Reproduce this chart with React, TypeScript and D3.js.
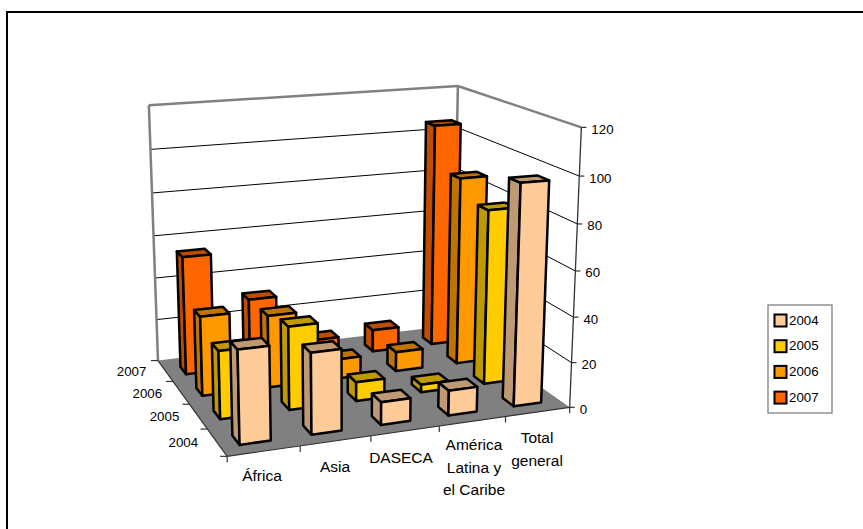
import React from "react";
import * as d3 from "d3";

const W = 863, H = 529;
const categories = ["África", "Asia", "DASECA", "América Latina y el Caribe", "Total general"];
const years = ["2004", "2005", "2006", "2007"];
const values2004 = [40, 35, 10, 11, 97];
const values2005 = [30, 37, 8.5, 3.5, 79];
const values2006 = [36, 33, 9, 9, 87];
const values2007 = [55, 32, 9, 10.5, 106];
const seriesValues = [values2004, values2005, values2006, values2007];
const fills = ["#FFCC99", "#FFCC00", "#FF9900", "#FF6600"];
const zTicks = [0, 20, 40, 60, 80, 100, 120];

// Camera calibration: unit cube corner -> picture position
const calib: [number, number, number, number, number][] = [
  [0, 0, 0, 227, 456],
  [1, 0, 0, 570, 407],
  [0, 1, 0, 158, 361],
  [1, 1, 0, 453, 325],
  [0, 1, 1, 149, 105],
  [1, 1, 1, 458, 86],
  [1, 0, 1, 581, 127],
  [1, 0, 0.5, 575.5, 272],
];

function solveCamera() {
  const rows: number[][] = [];
  const rhs: number[] = [];
  calib.forEach(([x, y, z, u, v]) => {
    rows.push([x, y, z, 1, 0, 0, 0, 0, -u * x, -u * y, -u * z]);
    rhs.push(u);
    rows.push([0, 0, 0, 0, x, y, z, 1, -v * x, -v * y, -v * z]);
    rhs.push(v);
  });
  const n = 11;
  const M = d3.range(n).map((i) => {
    const r = d3.range(n).map((j) => d3.sum(rows, (row) => row[i] * row[j]));
    r.push(d3.sum(rows, (row, k) => row[i] * rhs[k]));
    return r;
  });
  for (let i = 0; i < n; i++) {
    let p = i;
    for (let k = i + 1; k < n; k++) if (Math.abs(M[k][i]) > Math.abs(M[p][i])) p = k;
    [M[i], M[p]] = [M[p], M[i]];
    for (let k = 0; k < n; k++) {
      if (k === i) continue;
      const f = M[k][i] / M[i][i];
      for (let j = i; j <= n; j++) M[k][j] -= f * M[i][j];
    }
  }
  return M.map((r, i) => r[n] / r[i]);
}
const cam = solveCamera();
const project = (x: number, y: number, z: number): [number, number] => {
  const w = cam[8] * x + cam[9] * y + cam[10] * z + 1;
  return [
    (cam[0] * x + cam[1] * y + cam[2] * z + cam[3]) / w,
    (cam[4] * x + cam[5] * y + cam[6] * z + cam[7]) / w,
  ];
};
const poly = (pts: [number, number][]) => d3.line()(pts)! + "Z";

const xScale = d3.scaleBand<number>().domain(d3.range(categories.length)).range([-0.006, 1.0]).paddingInner(0.57).paddingOuter(0.285);
const yScale = d3.scaleBand<number>().domain(d3.range(years.length)).range([0, 0.975]).paddingInner(0.64).paddingOuter(0.32);
const zScale = d3.scaleLinear().domain([0, 120]).range([0, 1]);

const darker = (c: string) => {
  const r = d3.rgb(c);
  return d3.rgb(r.r * 0.75, r.g * 0.75, r.b * 0.75).formatHex();
};

const catLines = [["África"], ["Asia"], ["DASECA"], ["América", "Latina y", "el Caribe"], ["Total", "general"]];
const catAnchor: [number, number][] = [
  [262, 481],
  [335, 472],
  [401, 463],
  [474, 450],
  [537, 443],
];
const font = "'Liberation Sans', Arial, sans-serif";

export default function App() {
  const bars = d3.range(years.length).reverse().flatMap((s) =>
    d3.range(categories.length).reverse().map((c) => {
      const x0 = xScale(c)!, x1 = x0 + xScale.bandwidth();
      const y0 = yScale(s)!, y1 = y0 + yScale.bandwidth();
      const z = zScale(seriesValues[s][c]);
      return { s, c, x0, x1, y0, y1, z };
    })
  );
  const edge = (a: [number, number], b: [number, number], stroke: string, sw: number, key: string) => (
    <line key={key} x1={a[0]} y1={a[1]} x2={b[0]} y2={b[1]} stroke={stroke} strokeWidth={sw} />
  );
  return (
    <svg width={W} height={H} style={{ position: "absolute", left: 0, top: 0, background: "#fff" }} fontFamily={font} fontSize={13.3}>
      <line x1={7} y1={11} x2={7} y2={H} stroke="#000" strokeWidth={2} />
      <line x1={6} y1={12} x2={W} y2={12} stroke="#000" strokeWidth={2} />
      <path d={poly([project(0, 1, 0), project(1, 1, 0), project(1, 0, 0), project(0, 0, 0)])} fill="#808080" />
      {zTicks.slice(1, -1).map((t) => {
        const z = zScale(t);
        return (
          <g key={t}>
            {edge(project(0, 1, z), project(1, 1, z), "#000", 1, "b")}
            {edge(project(1, 1, z), project(1, 0, z), "#000", 1, "r")}
          </g>
        );
      })}
      {edge(project(0, 1, 0), project(0, 1, 1), "#808080", 2.5, "w1")}
      {edge(project(0, 1, 1), project(1, 1, 1), "#808080", 2.5, "w2")}
      {edge(project(1, 1, 1), project(1, 0, 1), "#808080", 2.5, "w3")}
      {edge(project(1, 1, 1), project(1, 1, 0), "#808080", 2.5, "w4")}
      {/* value axis */}
      {edge(project(1, 0, 0), project(1, 0, 1), "#333", 1.3, "zaxis")}
      {zTicks.map((t) => {
        const p = project(1, 0, zScale(t));
        return (
          <g key={t}>
            <line x1={p[0]} y1={p[1]} x2={p[0] + 5} y2={p[1]} stroke="#333" strokeWidth={1.2} />
            <text x={p[0] + 10} y={p[1] + 6.5}>{t}</text>
          </g>
        );
      })}
      {/* category axis */}
      {edge(project(0, 0, 0), project(1, 0, 0), "#333", 1.2, "xaxis")}
      {d3.range(categories.length + 1).map((i) => {
        const p = project(i / categories.length, 0, 0);
        return <line key={i} x1={p[0]} y1={p[1]} x2={p[0]} y2={p[1] + 6} stroke="#333" strokeWidth={1.2} />;
      })}
      {/* depth axis */}
      {edge(project(0, 0, 0), project(0, 1, 0), "#333", 1.2, "yaxis")}
      {d3.range(years.length + 1).map((i) => {
        const p = project(0, i / years.length, 0);
        return <line key={i} x1={p[0]} y1={p[1]} x2={p[0] - 7} y2={p[1]} stroke="#333" strokeWidth={1.2} />;
      })}
      {years.map((y, i) => {
        const p = project(0, (i + 0.5) / years.length, 0);
        return <text key={y} x={p[0] - 19} y={p[1] + 5} textAnchor="end">{y}</text>;
      })}
      {catLines.map((lines, i) => (
        <text key={i} textAnchor="middle" x={catAnchor[i][0]} y={catAnchor[i][1]} fontSize={15.5}>
          {lines.map((l, j) => (
            <tspan key={j} x={catAnchor[i][0]} dy={j ? 22.5 : 0}>{l}</tspan>
          ))}
        </text>
      ))}
      {/* bars */}
      {bars.map((b) => {
        const f = fills[b.s], d = darker(f);
        return (
          <g key={`${b.s}-${b.c}`} stroke="#000" strokeWidth={2.5} strokeLinejoin="round">
            <path d={poly([project(b.x0, b.y0, 0), project(b.x0, b.y1, 0), project(b.x0, b.y1, b.z), project(b.x0, b.y0, b.z)])} fill={d} />
            <path d={poly([project(b.x0, b.y0, b.z), project(b.x0, b.y1, b.z), project(b.x1, b.y1, b.z), project(b.x1, b.y0, b.z)])} fill={d} />
            <path d={poly([project(b.x0, b.y0, 0), project(b.x1, b.y0, 0), project(b.x1, b.y0, b.z), project(b.x0, b.y0, b.z)])} fill={f} />
          </g>
        );
      })}
      {/* legend */}
      <rect x={768} y={305} width={64} height={108} fill="#fff" stroke="#808080" strokeWidth={1.3} />
      {years.map((y, i) => (
        <g key={y}>
          <rect x={774.5} y={314.5 + i * 25.7} width={12} height={12} fill={fills[i]} stroke="#000" strokeWidth={2} />
          <text x={789} y={324.5 + i * 25.7}>{y}</text>
        </g>
      ))}
    </svg>
  );
}
